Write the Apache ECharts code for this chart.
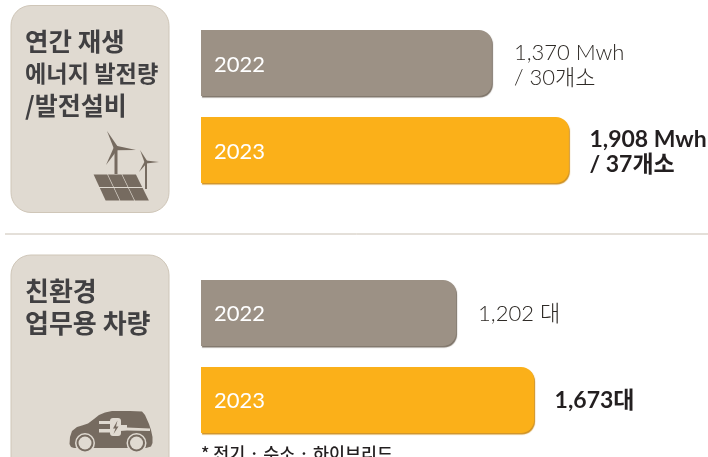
<!DOCTYPE html>
<html>
<head>
<meta charset="utf-8">
<style>
  html, body { margin: 0; padding: 0; background: #fff; }
  #chart { width: 708px; height: 457px; }
</style>
<script src="https://cdn.jsdelivr.net/npm/echarts@6/dist/echarts.min.js"></script>
</head>
<body>
<div id="chart"></div>
<script>
const years = ['2022', '2023'];
const energyValues = [1370, 1908];
const energyLabels = ['1,370 Mwh\n/ 30개소', '1,908 Mwh\n/ 37개소'];
const vehicleValues = [1202, 1673];
const vehicleLabels = ['1,202 대', '1,673대'];
const energyTitle = ['연간 재생', '에너지 발전량', '/발전설비'];
const vehicleTitle = ['친환경', '업무용 차량'];
const footnote = '* 전기 · 수소 · 하이브리드';

const latinKr = 'Lato, "Noto Sans CJK KR", sans-serif';
const krFont = '"Noto Sans CJK KR", sans-serif';
const iconColor = '#766b60';
const panelColor = '#e0dad1';

// the original bars do not start at zero, so the baseline is the axis min
const energyMin = -670;
const vehicleMin = -344;

function barSeries(gridIndex, values, labels, axisMin) {
  return {
    type: 'custom',
    xAxisIndex: gridIndex,
    yAxisIndex: gridIndex,
    animation: false,
    clip: false,
    encode: { x: 0, y: 1 },
    data: values.map(function (v, i) { return [v, i]; }),
    renderItem: function (params, api) {
      const i = api.value(1);
      const latest = i === values.length - 1;
      const multiLine = labels[i].indexOf('\n') > -1;
      const start = api.coord([axisMin, i]);
      const end = api.coord([api.value(0), i]);
      return {
        type: 'group',
        children: [
          {
            type: 'rect',
            shape: { x: start[0], y: end[1] - 33.5, width: end[0] - start[0] - 1, height: 66, r: [0, 13, 13, 0] },
            style: {
              fill: latest ? '#fbb019' : '#9c9185',
              shadowColor: latest ? '#cf9122' : '#7d7368',
              shadowBlur: 1,
              shadowOffsetX: 1,
              shadowOffsetY: 1.5
            }
          },
          {
            type: 'text',
            style: {
              text: years[i],
              x: start[0] + 13,
              y: end[1] + (multiLine ? 1 : 0.5),
              verticalAlign: 'middle',
              fill: '#fff',
              font: '22px ' + latinKr
            }
          },
          {
            type: 'text',
            style: {
              text: labels[i],
              x: end[0] + (latest ? 19.5 : 21),
              y: end[1] + (multiLine ? 2 : 0),
              verticalAlign: 'middle',
              lineHeight: 25,
              fill: latest ? '#231f20' : '#2e2a26',
              font: (latest ? 'bold 23px ' : '300 22px ') + latinKr
            }
          }
        ]
      };
    }
  };
}

function hiddenValueAxis(gridIndex, min, max) {
  return { type: 'value', gridIndex: gridIndex, min: min, max: max, show: false };
}

function hiddenYearAxis(gridIndex) {
  return {
    type: 'category',
    gridIndex: gridIndex,
    data: years,
    inverse: true,
    show: false
  };
}

function panel(y, h) {
  return {
    type: 'rect',
    shape: { x: 11, y: y, width: 158, height: h, r: 20 },
    style: { fill: panelColor, stroke: '#cfc6b8', lineWidth: 1 }
  };
}

function titleLines(lines, sizes, y) {
  return lines.map(function (line, i) {
    return {
      type: 'text',
      x: 25,
      y: y + i * 32,
      style: {
        text: line,
        fill: '#414042',
        font: 'bold ' + sizes[i] + 'px ' + krFont,
        verticalAlign: 'middle'
      }
    };
  });
}

function poly(points, fill) {
  return { type: 'polygon', shape: { points: points }, style: { fill: fill || iconColor } };
}

function turbine(cx, cy, blades, towerEnd, w) {
  const out = [poly([[cx - w, cy], [cx + w, cy], [cx + w, towerEnd], [cx - w, towerEnd]])];
  blades.forEach(function (b) {
    const dx = b[0] - cx, dy = b[1] - cy, len = Math.sqrt(dx * dx + dy * dy);
    const nx = -dy / len * w * 1.5, ny = dx / len * w * 1.5;
    out.push(poly([[cx + nx, cy + ny], [cx - nx, cy - ny], [b[0], b[1]]]));
  });
  return out;
}

function solarCells() {
  const out = [];
  // corners of the panel: top-left, top-right, bottom-right, bottom-left
  const tl = [93, 174], tr = [136, 174], br = [149.5, 201], bl = [105.5, 201];
  function at(u, v) {
    const tx = tl[0] + (tr[0] - tl[0]) * u, bx = bl[0] + (br[0] - bl[0]) * u;
    return [tx + (bx - tx) * v, tl[1] + (bl[1] - tl[1]) * v];
  }
  for (let r = 0; r < 2; r++) {
    for (let c = 0; c < 3; c++) {
      const u0 = c / 3 + 0.008, u1 = (c + 1) / 3 - 0.008;
      const v0 = r / 2 + 0.02, v1 = (r + 1) / 2 - 0.02;
      out.push(poly([at(u0, v0), at(u1, v0), at(u1, v1), at(u0, v1)]));
    }
  }
  return out;
}

function carIcon() {
  const out = [];
  out.push(poly([
    [69.5, 444], [70, 437], [72, 431], [77, 427], [82, 425.5], [88, 423.5], [94, 419], [99, 415],
    [105, 412.5], [112, 411], [130, 411], [142, 411.5], [145, 415], [149, 424], [151, 430],
    [152.5, 437], [152.5, 443], [151, 446.5], [146, 448], [74, 448], [71, 447]
  ]));
  [[85, 443], [136.5, 443]].forEach(function (c) {
    out.push({ type: 'circle', shape: { cx: c[0], cy: c[1], r: 10 }, style: { fill: panelColor } });
    out.push({ type: 'circle', shape: { cx: c[0], cy: c[1], r: 8.5 }, style: { fill: iconColor } });
    out.push({ type: 'circle', shape: { cx: c[0], cy: c[1], r: 6.5 }, style: { fill: panelColor } });
  });
  // plug and cord
  out.push(poly([[99, 421], [111, 421], [111, 424], [99, 424]], panelColor));
  out.push(poly([[99, 429], [111, 429], [111, 432.5], [99, 432.5]], panelColor));
  out.push({ type: 'rect', shape: { x: 110, y: 418, width: 11, height: 18, r: 3 }, style: { fill: panelColor } });
  out.push(poly([[120, 425], [127, 425], [127, 427.5], [150, 428.5], [150, 431], [127, 430.5], [120, 431]], panelColor));
  out.push(poly([[117.5, 420.5], [113, 428.5], [115.5, 428.5], [113.5, 434], [118.5, 426.5], [116, 426.5]], iconColor));
  return out;
}

const option = {
  backgroundColor: '#fff',
  animation: false,
  grid: [
    { left: 201, top: 20, width: 507, height: 174 },
    { left: 201, top: 270, width: 507, height: 174 }
  ],
  xAxis: [hiddenValueAxis(0, energyMin, 2873), hiddenValueAxis(1, vehicleMin, 2717)],
  yAxis: [hiddenYearAxis(0), hiddenYearAxis(1)],
  series: [
    barSeries(0, energyValues, energyLabels, energyMin),
    barSeries(1, vehicleValues, vehicleLabels, vehicleMin)
  ],
  graphic: {
    elements: [
      panel(5.5, 207),
      panel(255, 230),
      { type: 'line', shape: { x1: 5, y1: 234, x2: 708, y2: 234 }, style: { stroke: '#c9c0b3', lineWidth: 1 } },
      { type: 'text', x: 201, y: 445, style: { text: footnote, fill: '#231f20', font: '500 17.4px ' + krFont } }
    ]
      .concat(titleLines(energyTitle, [25.5, 23.2, 25], 41))
      .concat(titleLines(vehicleTitle, [26, 26], 291))
      .concat(turbine(116, 148, [[107, 131], [136, 150], [106, 165]], 174, 1.5))
      .concat(turbine(146, 162, [[140, 150], [159, 162], [139, 172]], 189, 1))
      .concat(solarCells())
      .concat(carIcon())
  }
};

const myChart = echarts.init(document.getElementById('chart'));
myChart.setOption(option);
</script>
</body>
</html>
